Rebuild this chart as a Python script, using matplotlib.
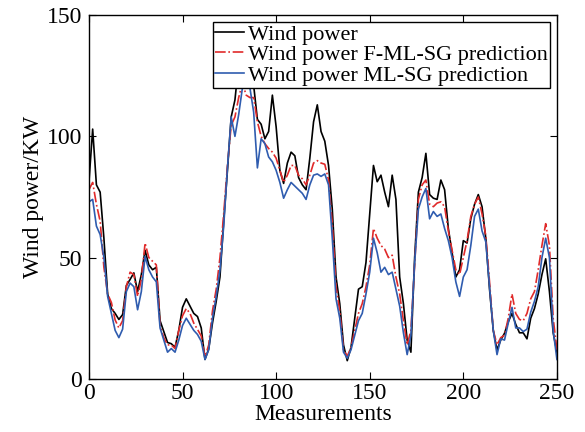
import numpy as np
import matplotlib
matplotlib.use('Agg')
import matplotlib.pyplot as plt

x = np.arange(0, 251, 2)

wind_power = [81, 103, 80, 77, 58, 35, 29, 27, 24.5, 26.5,
              38.5, 41, 43.7, 36, 43, 53, 47, 45, 46, 24,
              19.5, 15, 14.5, 13, 20, 29.5, 33, 30, 27, 25.7,
              21, 8, 12.4, 23, 32, 42, 65, 86, 108, 115,
              130, 135, 135, 132, 121, 107, 105, 99, 102, 117,
              104, 86, 80.6, 89, 93.5, 92, 83, 80, 78, 91,
              106, 113, 102, 98, 88, 70, 42, 31, 14, 7.5,
              13, 25, 37, 38, 48, 68, 88, 81.3, 84, 77,
              71, 84, 74, 42, 31, 16, 11, 50, 77, 83,
              93, 76, 74.5, 74, 82, 78, 62, 52, 42, 45,
              57, 56, 66, 72, 76, 71, 58, 37, 20, 12,
              16, 18.8, 23.5, 27, 22.5, 19, 19, 16.5, 25, 29,
              35, 43, 49.5, 36, 19, 11]

fml_sg = [78, 81, 72, 65, 46, 35, 31.5, 24.3, 21, 24,
          38, 44, 43, 34, 41, 56, 50, 48.5, 47, 22,
          17, 14, 14, 12.5, 20, 26, 29, 27, 23, 20.4,
          17.7, 9, 14, 28, 37, 50, 68, 88, 104.6, 108,
          116, 122, 117, 116, 116, 106, 100, 97, 95, 93.5,
          91, 86, 81, 84, 88, 88, 84, 82.5, 80, 84,
          89, 90, 89, 88.5, 82, 64, 38, 28, 12, 9.3,
          13, 20, 27, 31, 38, 47, 62, 58, 55, 53.5,
          50, 51, 42, 35, 24, 14, 20, 47, 74, 80,
          82, 72, 71, 72.5, 73, 71, 61, 53, 45, 43,
          50, 57, 67, 72, 75, 68, 59, 40, 20, 14,
          17, 18, 25, 35, 27, 24.5, 24, 27, 33, 36,
          45, 55, 64, 55, 25, 12]

ml_sg = [73, 74, 63, 59.5, 50, 34, 27, 20, 17, 20.5,
         36, 39.5, 38, 28.5, 36, 50.5, 45, 42, 40, 21,
         16, 11, 12.5, 11, 16, 22, 25, 22.5, 20, 18.3,
         15.5, 8, 12, 25, 34, 45, 63, 87, 108, 100,
         109, 120, 122, 120, 110, 87, 99, 97, 91.5, 89.5,
         86, 81, 74.5, 78, 81, 79.5, 78, 76.5, 74, 80,
         84, 84.5, 83.5, 84.5, 80, 58, 33, 25, 11, 8.5,
         12, 18, 24, 27, 35, 44, 58, 52, 44, 46,
         43, 44, 37, 30, 19, 10, 18, 48, 70, 75,
         78.5, 66, 69, 67, 68, 62, 57, 50, 40, 34,
         42, 45, 55, 67, 70, 61, 56.5, 38, 20, 10,
         16.5, 16, 23, 29.5, 21, 21, 19.5, 20.5, 27.5, 32,
         38, 50, 58, 50, 20, 8]

plt.rcParams['font.family'] = ['Liberation Serif', 'DejaVu Serif']

fig = plt.figure(figsize=(5.85, 4.32), dpi=100)
ax = fig.add_axes([0.152, 0.123, 0.8, 0.842])

ax.plot(x, wind_power, '-', color='black', lw=1.2, label='Wind power')
ax.plot(x, fml_sg, '-.', color='#e02a2a', lw=1.2, label='Wind power F-ML-SG prediction')
ax.plot(x, ml_sg, '-', color='#2f5caf', lw=1.2, label='Wind power ML-SG prediction')

ax.set_xlim(0, 250)
ax.set_ylim(0, 150)
ax.set_xticks([0, 50, 100, 150, 200, 250])
ax.set_yticks([0, 50, 100, 150])
ax.tick_params(direction='in', top=True, right=True, length=5, labelsize=17)
ax.tick_params(axis='x', pad=3)
ax.tick_params(axis='y', pad=5)
for s in ax.spines.values():
    s.set_linewidth(1.0)

ax.set_xlabel('Measurements', fontsize=17, labelpad=0)
ax.set_ylabel('Wind power/KW', fontsize=17, labelpad=2)

leg = ax.legend(loc='upper right', fontsize=16, frameon=True, fancybox=False,
                edgecolor='black', framealpha=1, borderaxespad=0.3,
                handlelength=1.3, handletextpad=0.2, labelspacing=0.0,
                borderpad=0.1)
leg.get_frame().set_linewidth(1.0)
leg.set_zorder(5)

plt.savefig('out.png', dpi=100)
plt.close()
